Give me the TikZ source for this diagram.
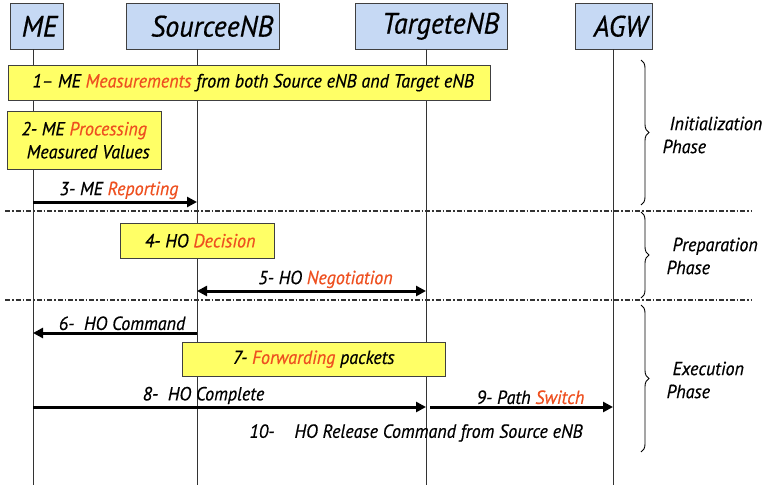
\documentclass[tikz,border=0pt]{standalone}
\usepackage{fontspec}
\setmainfont{PT Sans}[FakeStretch=0.95, FakeBold=0.5]
\usetikzlibrary{arrows.meta,decorations.pathreplacing}
\definecolor{hdr}{HTML}{C6D9F4}
\definecolor{ylw}{HTML}{FFFF66}
\definecolor{hot}{HTML}{EE5020}
\definecolor{edge}{HTML}{404040}
\newcommand{\hot}[1]{\textcolor{hot}{#1}}
\begin{document}
\begin{tikzpicture}[x=1pt,y=-1pt,
  hdrbox/.style={draw=edge, fill=hdr, minimum height=46pt, anchor=north west,
    align=right, font=\fontsize{29.5}{32}\selectfont\itshape},
  note/.style={draw=edge, fill=ylw, anchor=north west, inner sep=0pt, align=center,
    font=\fontsize{19}{23}\selectfont\itshape},
  lbl/.style={font=\fontsize{19}{23}\selectfont\itshape},
  life/.style={draw=black!80, line width=1pt},
  msg/.style={line width=3pt, -{Triangle[length=10pt,width=10pt]}},
  sep/.style={draw=black!80, line width=1.2pt, dash pattern=on 5pt off 2pt on 1.5pt off 2pt},
  brc/.style={draw=black, line width=0.9pt, decorate, decoration={brace, amplitude=8pt}}]
\useasboundingbox (0,0) rectangle (768,485);

% headers
\node[hdrbox, inner xsep=6pt, text width=41pt] (me) at (10,3) {ME};
\node[hdrbox, inner xsep=6pt, text width=141pt] (src) at (126,3) {SourceeNB};
\node[hdrbox, inner xsep=8pt, text width=136pt] (tgt) at (355,3) {TargeteNB};
\node[hdrbox, inner xsep=5pt, text width=67pt] (agw) at (575,3) {AGW};

% lifelines
\coordinate (meT) at (33,49);   \coordinate (meB) at (33,485);
\coordinate (srcT) at (197,49); \coordinate (srcB) at (197,485);
\coordinate (tgtT) at (426,49); \coordinate (tgtB) at (426,485);
\coordinate (agwT) at (613,49); \coordinate (agwB) at (613,485);
\draw[life] (meT) -- (meB);
\draw[life] (srcT) -- (srcB);
\draw[life] (tgtT) -- (tgtB);
\draw[life] (agwT) -- (agwB);

% notes
\node[note, minimum width=482pt, minimum height=35pt] (n1) at (8,65)
  {\hspace*{8pt}1– ME \hot{Measurements} from both Source eNB and Target eNB};
\node[note, minimum width=154pt, minimum height=58pt] (n2) at (7,111)
  {2- ME \hot{Processing}\\\hspace*{8pt}Measured Values};
\node[note, minimum width=154pt, minimum height=35pt] (n4) at (120,223)
  {\hspace*{6pt}4- HO \hot{Decision}};
\node[note, minimum width=263pt, minimum height=34pt] (n7) at (182,342)
  {7- \hot{Forwarding} packets};

% messages
\coordinate (m3a) at (33,202);  \coordinate (m3b) at (197,202);
\draw[msg] (m3a) -- node[lbl, above=-2pt, xshift=4pt] (l3) {3- ME \hot{Reporting}} (m3b);

\coordinate (m5a) at (197,291); \coordinate (m5b) at (426,291);
\draw[msg, {Triangle[length=10pt,width=10pt]}-{Triangle[length=10pt,width=10pt]}] (m5a) -- node[lbl, above=-2pt, xshift=14pt] (l5) {5- HO \hot{Negotiation}} (m5b);

\coordinate (m6a) at (197,333); \coordinate (m6b) at (33,333);
\draw[msg] (m6a) -- node[lbl, above=-2pt, xshift=7pt] (l6) {6- \ HO Command} (m6b);

\coordinate (m8a) at (33,407); \coordinate (m8b) at (426,407);
\draw[msg] (m8a) -- node[lbl, above=-2pt, xshift=-26pt] (l8) {8- \ HO Complete} (m8b);

\coordinate (m9a) at (430,407); \coordinate (m9b) at (613,407);
\draw[msg] (m9a) -- node[lbl, above=-2pt, xshift=9pt] (l9) {9- Path \hot{Switch}} (m9b);

\node[lbl, anchor=west] (l10) at (246,433) {10-\hspace{20pt}HO Release Command from Source eNB};

% phase separators
\coordinate (s1a) at (5,211); \coordinate (s1b) at (752,211);
\coordinate (s2a) at (5,300); \coordinate (s2b) at (752,300);
\draw[sep] (s1a) -- (s1b);
\draw[sep] (s2a) -- (s2b);

% braces
\coordinate (b1a) at (641,60);  \coordinate (b1b) at (641,205);
\coordinate (b2a) at (641,212); \coordinate (b2b) at (641,298);
\coordinate (b3a) at (641,305); \coordinate (b3b) at (641,452);
\draw[brc] (b1a) -- (b1b);
\draw[brc] (b2a) -- (b2b);
\draw[brc] (b3a) -- (b3b);

\node[lbl, anchor=west, align=left] (p1) at (659,135) {\hspace*{7pt}Initialization\\Phase};
\node[lbl, anchor=west, align=left] (p2) at (663,256) {\hspace*{6pt}Preparation\\Phase};
\node[lbl, anchor=west, align=left] (p3) at (663,380) {\hspace*{6pt}Execution\\Phase};
\end{tikzpicture}
\end{document}
